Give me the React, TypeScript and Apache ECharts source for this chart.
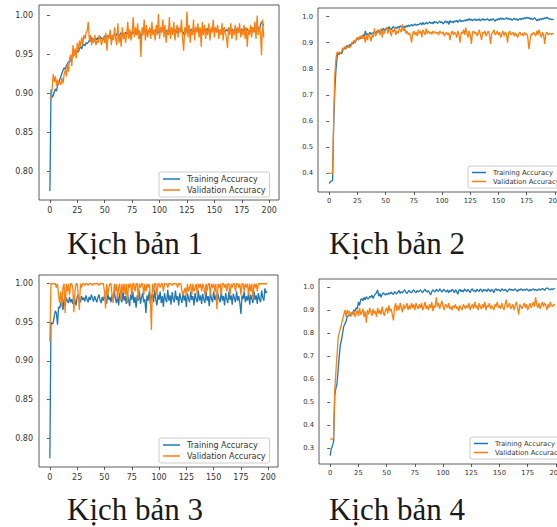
import React, { useEffect, useRef } from "react";
import * as echarts from "echarts";

const captions = ["Kịch bản 1", "Kịch bản 2", "Kịch bản 3", "Kịch bản 4"];
const seriesNames = ["Training Accuracy", "Validation Accuracy"];
const xTicks = [0, 25, 50, 75, 100, 125, 150, 175, 200];
const yTicksA = [0.8, 0.85, 0.9, 0.95, 1.0];
const yTicksB2 = [0.4, 0.5, 0.6, 0.7, 0.8, 0.9, 1.0];
const yTicksB4 = [0.3, 0.4, 0.5, 0.6, 0.7, 0.8, 0.9, 1.0];

const train1 = [
  0.775, 0.905, 0.895, 0.897, 0.902, 0.906, 0.903, 0.910, 0.914, 0.918,
  0.922, 0.926, 0.930, 0.933, 0.931, 0.936, 0.938, 0.941, 0.940, 0.944,
  0.946, 0.948, 0.950, 0.952, 0.951, 0.955, 0.953, 0.958, 0.960, 0.957,
  0.962, 0.963, 0.961, 0.965, 0.964, 0.966, 0.968, 0.967, 0.972, 0.969,
  0.970, 0.968, 0.971, 0.969, 0.972, 0.970, 0.973, 0.971, 0.969, 0.972,
  0.974, 0.971, 0.973, 0.975, 0.972, 0.974, 0.970, 0.975, 0.973, 0.976,
  0.974, 0.977, 0.975, 0.973, 0.976, 0.978, 0.974, 0.977, 0.975, 0.979,
  0.976, 0.978, 0.975, 0.977, 0.979, 0.976, 0.978, 0.980, 0.977, 0.975,
  0.979, 0.981, 0.978, 0.970, 0.976, 0.980, 0.982, 0.978, 0.980, 0.977,
  0.981, 0.979, 0.982, 0.980, 0.977, 0.981, 0.979, 0.983, 0.980, 0.978,
  0.981, 0.979, 0.982, 0.980, 0.983, 0.979, 0.981, 0.978, 0.982, 0.980,
  0.977, 0.981, 0.983, 0.979, 0.982, 0.980, 0.978, 0.981, 0.984, 0.980,
  0.982, 0.979, 0.976, 0.981, 0.983, 0.980, 0.978, 0.982, 0.980, 0.983,
  0.981, 0.979, 0.982, 0.984, 0.980, 0.982, 0.979, 0.983, 0.981, 0.978,
  0.982, 0.980, 0.983, 0.981, 0.984, 0.980, 0.982, 0.979, 0.983, 0.981,
  0.984, 0.982, 0.979, 0.983, 0.981, 0.978, 0.982, 0.980, 0.983, 0.981,
  0.979, 0.982, 0.980, 0.984, 0.981, 0.979, 0.983, 0.980, 0.982, 0.979,
  0.983, 0.981, 0.978, 0.982, 0.980, 0.983, 0.981, 0.979, 0.984, 0.981,
  0.983, 0.980, 0.978, 0.982, 0.985, 0.981, 0.979, 0.983, 0.986, 0.982,
  0.985, 0.980, 0.988, 0.992, 0.990, 0.987,
];
const val1 = [
  0.895, 0.893, 0.905, 0.925, 0.915, 0.922, 0.910, 0.918, 0.912, 0.915,
  0.911, 0.920, 0.913, 0.925, 0.930, 0.922, 0.938, 0.928, 0.945, 0.950,
  0.935, 0.962, 0.948, 0.958, 0.945, 0.965, 0.955, 0.968, 0.960, 0.972,
  0.962, 0.975, 0.970, 0.978, 0.980, 0.992, 0.968, 0.975, 0.962, 0.970,
  0.965, 0.975, 0.962, 0.968, 0.965, 0.975, 0.970, 0.962, 0.968, 0.972,
  0.965, 0.978, 0.955, 0.975, 0.970, 0.982, 0.962, 0.975, 0.968, 0.985,
  0.970, 0.962, 0.990, 0.965, 0.975, 0.960, 0.985, 0.970, 0.978, 0.965,
  0.975, 0.992, 0.970, 0.982, 0.968, 0.978, 0.998, 0.972, 0.985, 0.975,
  0.990, 0.970, 0.980, 0.947, 0.985, 0.975, 0.995, 0.968, 0.988, 0.972,
  0.978, 0.985, 0.970, 0.992, 0.975, 0.982, 0.968, 0.988, 0.975, 1.002,
  0.970, 0.985, 0.978, 0.995, 0.972, 0.988, 0.965, 0.982, 0.975, 0.998,
  0.970, 0.985, 0.975, 0.992, 0.968, 0.980, 0.988, 0.972, 0.985, 0.978,
  0.995, 0.970, 0.955, 0.985, 0.975, 1.005, 0.972, 0.988, 0.965, 0.982,
  0.975, 0.995, 0.968, 0.985, 0.978, 0.990, 0.972, 0.985, 0.960, 0.992,
  0.975, 0.988, 0.970, 0.982, 0.975, 0.990, 0.968, 0.985, 0.978, 0.995,
  0.972, 0.985, 0.978, 0.988, 0.970, 0.982, 0.975, 0.990, 0.968, 0.985,
  0.978, 0.972, 0.958, 0.985, 0.975, 0.990, 0.970, 0.982, 0.975, 0.988,
  0.968, 0.985, 0.978, 0.990, 0.972, 0.982, 0.975, 0.988, 0.970, 0.985,
  0.960, 0.982, 0.975, 0.988, 0.972, 0.985, 0.978, 0.992, 0.970, 1.000,
  0.975, 0.985, 0.978, 0.949, 0.995, 0.972,
];
const train2 = [
  0.360, 0.368, 0.370, 0.372, 0.600, 0.720, 0.800, 0.845, 0.860, 0.855,
  0.862, 0.858, 0.870, 0.880, 0.875, 0.885, 0.890, 0.882, 0.893, 0.888,
  0.900, 0.895, 0.905, 0.900, 0.912, 0.918, 0.910, 0.922, 0.915, 0.925,
  0.930, 0.922, 0.945, 0.928, 0.935, 0.930, 0.940, 0.932, 0.938, 0.935,
  0.942, 0.936, 0.945, 0.938, 0.948, 0.940, 0.950, 0.945, 0.955, 0.948,
  0.952, 0.958, 0.950, 0.962, 0.955, 0.950, 0.958, 0.962, 0.955, 0.960,
  0.955, 0.962, 0.958, 0.965, 0.960, 0.957, 0.963, 0.958, 0.965, 0.960,
  0.968, 0.962, 0.966, 0.970, 0.964, 0.968, 0.972, 0.966, 0.970, 0.968,
  0.972, 0.975, 0.968, 0.978, 0.970, 0.974, 0.978, 0.972, 0.976, 0.980,
  0.974, 0.978, 0.972, 0.982, 0.976, 0.980, 0.974, 0.978, 0.983, 0.976,
  0.980, 0.972, 0.978, 0.984, 0.976, 0.982, 0.970, 0.985, 0.978, 0.982,
  0.976, 0.984, 0.980, 0.986, 0.978, 0.983, 0.988, 0.980, 0.985, 0.982,
  0.987, 0.983, 0.990, 0.985, 0.992, 0.986, 0.990, 0.984, 0.988, 0.991,
  0.985, 0.989, 0.986, 0.991, 0.984, 0.988, 0.992, 0.986, 0.990, 0.987,
  0.992, 0.988, 0.984, 0.990, 0.986, 0.992, 0.988, 0.982, 0.990, 0.986,
  0.993, 0.988, 0.995, 0.990, 0.994, 0.989, 0.992, 0.996, 0.990, 0.994,
  0.988, 0.992, 0.986, 0.990, 0.994, 0.988, 0.992, 0.985, 0.990, 0.993,
  0.988, 0.994, 0.990, 0.996, 0.992, 0.998, 0.993, 0.997, 0.990, 0.994,
  0.988, 0.992, 0.996, 0.990, 0.984, 0.990, 0.986, 0.992, 0.988, 0.994,
  0.990, 0.996, 0.992, 0.998, 0.994, 0.990, 0.992, 0.988, 0.990, 0.988,
];
const val2 = [
  0.400, 0.400, 0.400, 0.400, 0.620, 0.780, 0.840, 0.865, 0.860, 0.865,
  0.858, 0.868, 0.880, 0.875, 0.885, 0.878, 0.882, 0.890, 0.880, 0.885,
  0.895, 0.902, 0.910, 0.898, 0.915, 0.920, 0.912, 0.925, 0.918, 0.930,
  0.915, 0.925, 0.900, 0.930, 0.910, 0.935, 0.925, 0.905, 0.930, 0.920,
  0.955, 0.925, 0.935, 0.950, 0.945, 0.930, 0.955, 0.920, 0.945, 0.935,
  0.950, 0.960, 0.935, 0.955, 0.945, 0.925, 0.950, 0.940, 0.958, 0.930,
  0.945, 0.935, 0.955, 0.950, 0.940, 0.970, 0.945, 0.955, 0.935, 0.945,
  0.930, 0.938, 0.925, 0.900, 0.935, 0.945, 0.930, 0.940, 0.925, 0.950,
  0.935, 0.945, 0.920, 0.950, 0.940, 0.930, 0.955, 0.935, 0.945, 0.935,
  0.940, 0.932, 0.945, 0.938, 0.942, 0.935, 0.940, 0.930, 0.945, 0.938,
  0.935, 0.942, 0.925, 0.935, 0.940, 0.930, 0.938, 0.910, 0.935, 0.945,
  0.930, 0.940, 0.935, 0.920, 0.945, 0.932, 0.900, 0.940, 0.935, 0.950,
  0.930, 0.958, 0.935, 0.920, 0.945, 0.930, 0.895, 0.940, 0.945, 0.935,
  0.940, 0.925, 0.935, 0.950, 0.930, 0.910, 0.940, 0.935, 0.945, 0.925,
  0.935, 0.945, 0.930, 0.895, 0.935, 0.940, 0.950, 0.930, 0.935, 0.945,
  0.930, 0.940, 0.920, 0.935, 0.945, 0.925, 0.940, 0.935, 0.900, 0.938,
  0.945, 0.930, 0.935, 0.940, 0.925, 0.938, 0.930, 0.920, 0.935, 0.940,
  0.930, 0.935, 0.925, 0.940, 0.930, 0.935, 0.920, 0.875, 0.910, 0.935,
  0.930, 0.940, 0.935, 0.925, 0.945, 0.930, 0.950, 0.935, 0.920, 0.940,
  0.930, 0.895, 0.935, 0.940, 0.930, 0.935, 0.935, 0.932, 0.935, 0.935,
];
const train3 = [
  0.774, 0.950, 0.948, 0.949, 0.958, 0.965, 0.962, 0.947, 0.970, 0.968,
  0.975, 0.978, 0.966, 0.980, 0.972, 0.982, 0.978, 0.975, 0.983, 0.976,
  0.980, 0.974, 0.985, 0.978, 0.972, 0.983, 0.986, 0.980, 0.976, 0.984,
  0.979, 0.982, 0.977, 0.985, 0.980, 0.976, 0.983, 0.979, 0.986, 0.981,
  0.977, 0.984, 0.980, 0.976, 0.982, 0.986, 0.979, 0.975, 0.983, 0.978,
  0.985, 0.980, 0.974, 0.988, 0.979, 0.983, 0.976, 0.986, 0.978, 0.990,
  0.981, 0.975, 0.985, 0.972, 0.988, 0.980, 0.976, 0.990, 0.978, 0.984,
  0.974, 0.987, 0.980, 0.971, 0.986, 0.979, 0.990, 0.975, 0.983, 0.969,
  0.985, 0.978, 0.990, 0.974, 0.982, 0.988, 0.976, 0.980, 0.962, 0.985,
  0.978, 0.990, 0.974, 0.983, 0.987, 0.976, 0.992, 0.980, 0.972, 0.986,
  0.979, 0.990, 0.975, 0.984, 0.970, 0.988, 0.980, 0.976, 0.992, 0.978,
  0.985, 0.973, 0.989, 0.980, 0.976, 0.991, 0.979, 0.984, 0.972, 0.988,
  0.980, 0.975, 0.990, 0.978, 0.985, 0.970, 0.987, 0.981, 0.976, 0.990,
  0.979, 0.984, 0.972, 0.988, 0.980, 0.976, 0.991, 0.978, 0.985, 0.974,
  0.987, 0.980, 0.975, 0.990, 0.978, 0.984, 0.971, 0.988, 0.981, 0.976,
  0.990, 0.979, 0.985, 0.973, 0.987, 0.980, 0.976, 0.991, 0.978, 0.984,
  0.972, 0.988, 0.980, 0.975, 0.990, 0.979, 0.985, 0.973, 0.987, 0.981,
  0.976, 0.990, 0.978, 0.984, 0.975, 0.961, 0.985, 0.980, 0.990, 0.976,
  0.984, 0.978, 0.989, 0.973, 0.986, 0.980, 0.975, 0.990, 0.979, 0.985,
  0.974, 0.988, 0.980, 0.976, 0.991, 0.982, 0.978, 0.994, 0.988, 0.990,
];
const val3 = [
  0.925, 1.000, 1.000, 1.000, 1.000, 1.000, 0.995, 1.000, 0.985, 0.975,
  0.990, 0.970, 0.995, 1.000, 0.962, 1.000, 0.990, 1.000, 0.985, 1.000,
  1.000, 0.995, 0.963, 0.990, 1.000, 1.000, 0.985, 0.966, 1.000, 0.995,
  1.000, 1.000, 0.998, 1.000, 1.000, 0.998, 1.000, 1.000, 1.000, 0.998,
  1.000, 1.000, 1.000, 1.000, 1.000, 0.998, 1.000, 1.000, 1.000, 1.000,
  0.990, 0.968, 1.000, 0.985, 0.995, 1.000, 1.000, 0.985, 0.975, 1.000,
  0.990, 1.000, 0.980, 0.995, 1.000, 0.978, 1.000, 0.990, 1.000, 0.985,
  1.000, 0.975, 1.000, 0.995, 1.000, 0.985, 1.000, 1.000, 0.990, 1.000,
  1.000, 0.980, 1.000, 0.995, 1.000, 1.000, 0.985, 1.000, 0.990, 1.000,
  0.995, 1.000, 0.985, 0.940, 1.000, 0.990, 1.000, 1.000, 0.985, 1.000,
  1.000, 0.995, 1.000, 1.000, 0.990, 1.000, 1.000, 1.000, 0.995, 1.000,
  1.000, 1.000, 0.998, 1.000, 1.000, 1.000, 1.000, 0.995, 1.000, 1.000,
  1.000, 0.990, 0.985, 0.990, 0.995, 0.985, 1.000, 0.990, 0.995, 1.000,
  0.985, 1.000, 0.990, 0.995, 1.000, 0.985, 1.000, 0.995, 1.000, 0.990,
  1.000, 0.995, 0.985, 1.000, 0.990, 1.000, 1.000, 0.985, 1.000, 0.995,
  1.000, 0.990, 1.000, 0.967, 1.000, 0.995, 1.000, 0.985, 1.000, 1.000,
  0.995, 1.000, 0.990, 1.000, 1.000, 0.985, 1.000, 0.995, 1.000, 1.000,
  0.990, 1.000, 1.000, 0.995, 1.000, 0.985, 1.000, 1.000, 0.990, 1.000,
  0.995, 1.000, 0.985, 1.000, 0.990, 1.000, 0.980, 1.000, 0.995, 1.000,
  0.990, 1.000, 1.000, 1.000, 1.000, 1.000, 1.000, 1.000, 1.000, 1.000,
];
const train4 = [
  0.268, 0.300, 0.310, 0.330, 0.530, 0.560, 0.580, 0.640, 0.700, 0.750,
  0.770, 0.800, 0.830, 0.840, 0.850, 0.870, 0.875, 0.880, 0.875, 0.885,
  0.890, 0.900, 0.895, 0.910, 0.905, 0.935, 0.920, 0.945, 0.950, 0.940,
  0.955, 0.945, 0.958, 0.950, 0.948, 0.960, 0.955, 0.965, 0.950, 0.962,
  0.970, 0.975, 0.988, 0.960, 0.972, 0.955, 0.968, 0.975, 0.970, 0.965,
  0.972, 0.968, 0.975, 0.970, 0.978, 0.972, 0.968, 0.980, 0.975, 0.970,
  0.978, 0.985, 0.972, 0.980, 0.975, 0.982, 0.988, 0.978, 0.972, 0.980,
  0.985, 0.978, 0.975, 0.982, 0.988, 0.980, 0.975, 0.985, 0.978, 0.982,
  0.988, 0.980, 0.975, 0.985, 0.990, 0.982, 0.978, 0.985, 0.975, 0.965,
  0.980, 0.988, 0.982, 0.978, 0.990, 0.985, 0.980, 0.992, 0.985, 0.978,
  0.985, 0.990, 0.982, 0.978, 0.988, 0.975, 0.985, 0.980, 0.990, 0.985,
  0.975, 0.988, 0.982, 0.968, 0.985, 0.990, 0.980, 0.986, 0.978, 0.992,
  0.985, 0.980, 0.990, 0.984, 0.975, 0.988, 0.992, 0.982, 0.986, 0.978,
  0.990, 0.985, 0.980, 0.992, 0.986, 0.978, 0.990, 0.984, 0.988, 0.980,
  0.992, 0.986, 0.980, 0.990, 0.985, 0.975, 0.988, 0.992, 0.984, 0.990,
  0.986, 0.980, 0.992, 0.988, 0.984, 0.990, 0.985, 0.978, 0.988, 0.992,
  0.986, 0.990, 0.984, 0.988, 0.992, 0.985, 0.980, 0.990, 0.986, 0.992,
  0.988, 0.984, 0.990, 0.986, 0.992, 0.988, 0.982, 0.990, 0.985, 0.988,
  0.992, 0.986, 0.990, 0.984, 0.988, 0.992, 0.986, 0.990, 0.994, 0.990,
  0.986, 0.992, 0.996, 0.994, 0.990, 0.988, 0.992, 0.990, 0.992, 0.994,
];
const val4 = [
  0.340, 0.340, 0.340, 0.345, 0.550, 0.630, 0.700, 0.780, 0.800, 0.820,
  0.840, 0.860, 0.880, 0.900, 0.870, 0.900, 0.885, 0.895, 0.870, 0.890,
  0.880, 0.895, 0.870, 0.885, 0.900, 0.875, 0.910, 0.880, 0.890, 0.905,
  0.870, 0.895, 0.845, 0.900, 0.880, 0.910, 0.890, 0.875, 0.905, 0.885,
  0.895, 0.870, 0.910, 0.885, 0.900, 0.880, 0.915, 0.890, 0.875, 0.900,
  0.910, 0.885, 0.920, 0.895, 0.905, 0.880, 0.855, 0.910, 0.930, 0.895,
  0.920, 0.900, 0.930, 0.910, 0.890, 0.925, 0.905, 0.915, 0.930, 0.900,
  0.920, 0.905, 0.930, 0.910, 0.925, 0.900, 0.930, 0.915, 0.905, 0.925,
  0.910, 0.930, 0.900, 0.915, 0.935, 0.905, 0.920, 0.900, 0.925, 0.910,
  0.935, 0.895, 0.920, 0.910, 0.955, 0.915, 0.930, 0.905, 0.925, 0.940,
  0.915, 0.900, 0.925, 0.920, 0.910, 0.930, 0.905, 0.915, 0.900, 0.920,
  0.910, 0.925, 0.905, 0.915, 0.895, 0.920, 0.910, 0.900, 0.925, 0.915,
  0.905, 0.920, 0.910, 0.930, 0.900, 0.915, 0.925, 0.905, 0.935, 0.910,
  0.920, 0.900, 0.930, 0.915, 0.905, 0.925, 0.910, 0.935, 0.900, 0.920,
  0.915, 0.930, 0.905, 0.920, 0.910, 0.900, 0.925, 0.915, 0.935, 0.910,
  0.920, 0.905, 0.930, 0.915, 0.900, 0.925, 0.945, 0.910, 0.920, 0.930,
  0.905, 0.915, 0.925, 0.900, 0.920, 0.935, 0.910, 0.880, 0.925, 0.915,
  0.905, 0.920, 0.930, 0.910, 0.925, 0.900, 0.915, 0.930, 0.910, 0.920,
  0.935, 0.915, 0.955, 0.925, 0.910, 0.930, 0.905, 0.920, 0.935, 0.915,
  0.930, 0.920, 0.900, 0.925, 0.910, 0.935, 0.920, 0.915, 0.925, 0.920,
];

const BLUE = "#1f77b4";
const ORANGE = "#ff7f0e";
const AXIS = "#333333";

const pairs = (arr: number[]) => arr.map((v, i) => [i, v]);

type Panel = {
  grid: { left: number; top: number; width: number; height: number };
  yMin: number;
  yMax: number;
  yTicks: number[];
  yDigits: number;
  font: number;
  labelMargin: number;
  legend: { left: number; top: number };
  caption: { x: number; y: number };
  train: number[];
  val: number[];
};

const panels: Panel[] = [
  {
    grid: { left: 39, top: 5, width: 240, height: 195 },
    yMin: 0.7635, yMax: 1.0135, yTicks: yTicksA, yDigits: 2, font: 8, labelMargin: 6,
    legend: { left: 159, top: 172 }, caption: { x: 67, y: 243 },
    train: train1, val: val1,
  },
  {
    grid: { left: 318, top: 8, width: 247, height: 184 },
    yMin: 0.328, yMax: 1.033, yTicks: yTicksB2, yDigits: 1, font: 6.8, labelMargin: 5,
    legend: { left: 468, top: 166 }, caption: { x: 329, y: 243 },
    train: train2, val: val2,
  },
  {
    grid: { left: 39, top: 275, width: 239, height: 192 },
    yMin: 0.7627, yMax: 1.0113, yTicks: yTicksA, yDigits: 2, font: 8, labelMargin: 6,
    legend: { left: 159, top: 438 }, caption: { x: 67, y: 509 },
    train: train3, val: val3,
  },
  {
    grid: { left: 319, top: 279, width: 247, height: 185 },
    yMin: 0.2317, yMax: 1.0348, yTicks: yTicksB4, yDigits: 1, font: 6.8, labelMargin: 5,
    legend: { left: 470, top: 437 }, caption: { x: 329, y: 509 },
    train: train4, val: val4,
  },
];

export default function App() {
  const ref = useRef<HTMLDivElement>(null);
  useEffect(() => {
    if (!ref.current) return;
    const chart = echarts.init(ref.current, undefined, { renderer: "svg" });
    const labelFont = "DejaVu Sans";
    const option: any = {
      animation: false,
      backgroundColor: "#ffffff",
      grid: panels.map((p) => ({
        ...p.grid,
        show: true,
        borderColor: AXIS,
        borderWidth: 0.8,
        backgroundColor: "transparent",
        containLabel: false,
        outerBoundsMode: "none",
      })),
      xAxis: panels.map((p, k) => ({
        type: "value",
        gridIndex: k,
        min: -9.95,
        max: 208.95,
        splitLine: { show: false },
        axisLine: { show: false },
        axisTick: {
          show: true,
          length: 3,
          customValues: xTicks,
          lineStyle: { color: AXIS, width: 0.8 },
        },
        axisLabel: {
          show: true,
          customValues: xTicks,
          margin: p.labelMargin,
          color: AXIS,
          fontFamily: labelFont,
          fontSize: p.font,
          hideOverlap: false,
          formatter: (v: number) => String(Math.round(v)),
        },
      })),
      yAxis: panels.map((p, k) => ({
        type: "value",
        gridIndex: k,
        min: p.yMin,
        max: p.yMax,
        splitLine: { show: false },
        axisLine: { show: false },
        axisTick: {
          show: true,
          length: 3,
          customValues: p.yTicks,
          lineStyle: { color: AXIS, width: 0.8 },
        },
        axisLabel: {
          show: true,
          customValues: p.yTicks,
          margin: p.labelMargin,
          color: AXIS,
          fontFamily: labelFont,
          fontSize: p.font,
          formatter: (v: number) => v.toFixed(p.yDigits),
        },
      })),
      legend: panels.map((p) => ({
        data: seriesNames,
        orient: "vertical",
        left: p.legend.left,
        top: p.legend.top,
        backgroundColor: "rgba(255,255,255,0.85)",
        borderColor: "#cccccc",
        borderWidth: 1,
        borderRadius: 2,
        padding: [3, 4, 3, 4],
        itemWidth: p.font > 7 ? 17 : 14,
        itemHeight: 1.5,
        itemGap: p.font > 7 ? 3 : 2,
        icon: "rect",
        selectedMode: false,
        textStyle: {
          color: AXIS,
          fontFamily: labelFont,
          fontSize: p.font,
          padding: [0, 0, 0, 2],
        },
      })),
      series: panels.flatMap((p, k) => [
        {
          name: seriesNames[0],
          type: "line",
          xAxisIndex: k,
          yAxisIndex: k,
          data: pairs(p.train),
          showSymbol: false,
          lineStyle: { color: BLUE, width: 1.3 },
          itemStyle: { color: BLUE },
        },
        {
          name: seriesNames[1],
          type: "line",
          xAxisIndex: k,
          yAxisIndex: k,
          data: pairs(p.val),
          showSymbol: false,
          lineStyle: { color: ORANGE, width: 1.3 },
          itemStyle: { color: ORANGE },
        },
      ]),
      graphic: panels.map((p, k) => ({
        type: "text",
        x: p.caption.x,
        y: p.caption.y,
        style: {
          text: captions[k],
          font: '31px "Liberation Serif"',
          fill: "#1a1a1a",
          textVerticalAlign: "middle",
        },
      })),
    };
    chart.setOption(option);
    return () => chart.dispose();
  }, []);
  return (
    <div
      ref={ref}
      style={{ position: "absolute", left: 0, top: 0, width: 557, height: 527, background: "#fff" }}
    />
  );
}
